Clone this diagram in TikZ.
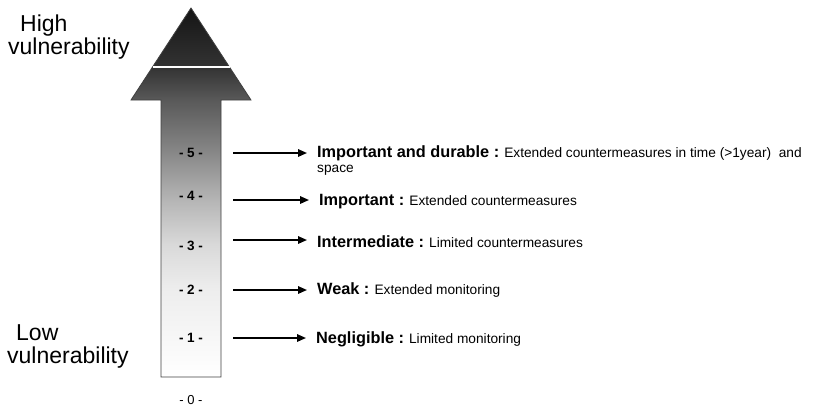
\documentclass[tikz,border=0pt]{standalone}
\usepackage{fontspec}
\setmainfont{Liberation Sans}
\usetikzlibrary{arrows.meta}
\pgfdeclareverticalshading{vulnfade}{100bp}{color(0bp)=(white); color(25bp)=(white); color(30bp)=(black!3); color(37bp)=(black!7); color(43bp)=(black!15); color(49bp)=(black!29); color(55.5bp)=(black!47); color(62.5bp)=(black!65); color(67bp)=(black!80); color(75bp)=(black!92); color(100bp)=(black!92)}
\newcommand\lvlhead[1]{{\fontsize{16.3}{19}\selectfont\bfseries #1}}
\begin{document}
\begin{tikzpicture}[x=1pt, y=-1pt,
  side/.style={anchor=base west, inner sep=0pt, font=\fontsize{23}{21}\selectfont},
  lvl/.style={anchor=base, inner sep=0pt, font=\fontsize{13.5}{15}\selectfont\bfseries},
  lab/.style={anchor=base west, inner xsep=10pt, inner ysep=0pt, font=\fontsize{13.7}{16}\selectfont},
  levelarrow/.style={line width=1.6pt, -{Triangle[length=9pt, width=7.5pt]}}]
\useasboundingbox (0,0) rectangle (820,408);
% big shaded arrow
\draw[black!75, line width=0.8pt, shading=vulnfade]
  (161,377) -- (161,100) -- (131,100) -- (191,8) -- (251,100) -- (221,100) -- (221,377) -- cycle;
\draw[white, line width=1.2pt] (152.5,67) -- (229.5,67);
\node[side] (hi1) at (20,31){High};
\node[side] (hi2) at (8,54){vulnerability};
\node[side] (lo1) at (16,340){Low};
\node[side] (lo2) at (7,363){vulnerability};
\node[lvl] (lv5) at (191,157){- 5 -};
\node[lvl] (lv4) at (191,200){- 4 -};
\node[lvl] (lv3) at (191,250.5){- 3 -};
\node[lvl] (lv2) at (191,294.5){- 2 -};
\node[lvl] (lv1) at (191,342.5){- 1 -};
\node[lvl, font=\fontsize{13}{15}\selectfont] (lv0) at (191,404.5){- 0 -};
\node[lab] (txt5) at (307,157.5){\lvlhead{Important and durable :} Extended countermeasures in time (>1year)~ and};
\node[lab] (txt5b) at (307,172){space};
\node[lab] (txt4) at (309,205.5){\lvlhead{Important :} Extended countermeasures};
\node[lab] (txt3) at (307,247){\lvlhead{Intermediate :} Limited countermeasures};
\node[lab] (txt2) at (307,294.5){\lvlhead{Weak :} Extended monitoring};
\node[lab] (txt1) at (306,343.5){\lvlhead{Negligible :} Limited monitoring};
\coordinate (a5) at (233,153);
\coordinate (a4) at (233,200);
\coordinate (a3) at (233,240);
\coordinate (a2) at (233,290);
\coordinate (a1) at (233,338);
\draw[levelarrow](a5) -- (txt5.west |- a5);
\draw[levelarrow](a4) -- (txt4.west |- a4);
\draw[levelarrow](a3) -- (txt3.west |- a3);
\draw[levelarrow](a2) -- (txt2.west |- a2);
\draw[levelarrow](a1) -- (txt1.west |- a1);
\end{tikzpicture}
\end{document}
